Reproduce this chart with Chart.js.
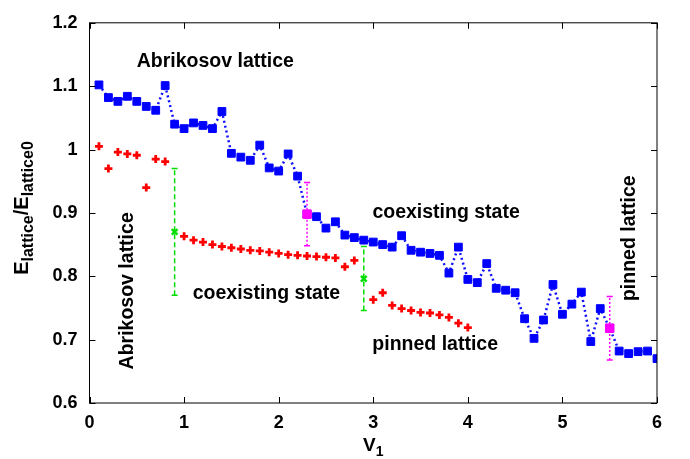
<!DOCTYPE html>
<html>
<head>
<meta charset="utf-8">
<script src="https://cdn.jsdelivr.net/npm/chart.js@4/dist/chart.umd.min.js"></script>
<style>
  body { margin: 0; background: #fff; }
</style>
</head>
<body>
<canvas id="chart" width="690" height="459"></canvas>
<script>
// V1 values (0.1 steps)
const vBlue = [0.1,0.2,0.3,0.4,0.5,0.6,0.7,0.8,0.9,1.0,1.1,1.2,1.3,1.4,1.5,1.6,1.7,1.8,1.9,2.0,
  2.1,2.2,2.3,2.4,2.5,2.6,2.7,2.8,2.9,3.0,3.1,3.2,3.3,3.4,3.5,3.6,3.7,3.8,3.9,4.0,
  4.1,4.2,4.3,4.4,4.5,4.6,4.7,4.8,4.9,5.0,5.1,5.2,5.3,5.4,5.5,5.6,5.7,5.8,5.9,6.0];
const eBlue = [1.102,1.082,1.076,1.084,1.076,1.068,1.062,1.101,1.040,1.033,1.042,1.038,1.033,1.060,0.994,0.988,0.983,1.007,0.971,0.966,
  0.993,0.958,0.898,0.894,0.876,0.886,0.865,0.861,0.857,0.854,0.850,0.846,0.864,0.841,0.838,0.836,0.833,0.805,0.846,0.795,
  0.790,0.820,0.781,0.778,0.774,0.733,0.702,0.731,0.787,0.740,0.756,0.775,0.697,0.749,0.718,0.682,0.678,0.681,0.682,0.670];

const vRed = [0.1,0.2,0.3,0.4,0.5,0.6,0.7,0.8,1.0,1.1,1.2,1.3,1.4,1.5,1.6,1.7,1.8,1.9,2.0,
  2.1,2.2,2.3,2.4,2.5,2.6,2.7,2.8,3.0,3.1,3.2,3.3,3.4,3.5,3.6,3.7,3.8,3.9,4.0];
const eRed = [1.005,0.970,0.996,0.993,0.991,0.940,0.985,0.981,0.863,0.857,0.854,0.850,0.847,0.845,0.843,0.841,0.840,0.838,0.836,
  0.834,0.833,0.832,0.831,0.830,0.829,0.815,0.825,0.763,0.774,0.754,0.749,0.746,0.743,0.742,0.739,0.735,0.726,0.719];

// transition points with error bars
const vGreen = [0.9, 2.9];
const eGreen = [0.870, 0.796];
const loGreen = [0.770, 0.746];
const hiGreen = [0.970, 0.847];

const vMagenta = [2.3, 5.5];
const eMagenta = [0.898, 0.718];
const loMagenta = [0.848, 0.668];
const hiMagenta = [0.948, 0.768];

const xTicks = [0,1,2,3,4,5,6];
const yTicks = [0.6,0.7,0.8,0.9,1.0,1.1,1.2];

// annotations: text, x, y, rotated
const labels = [
  { text: 'Abrikosov lattice', x: 1.33, y: 1.139, rot: false },
  { text: 'Abrikosov lattice', x: 0.40, y: 0.777, rot: true },
  { text: 'coexisting state', x: 1.87, y: 0.773, rot: false },
  { text: 'coexisting state', x: 3.77, y: 0.900, rot: false },
  { text: 'pinned lattice', x: 3.655, y: 0.692, rot: false },
  { text: 'pinned lattice', x: 5.71, y: 0.86, rot: true }
];

const FONT = '"Liberation Sans", Arial, sans-serif';

function pts(xs, ys) {
  return xs.map((x, i) => ({ x: x, y: ys[i] }));
}

function errorBar(x, lo, hi, color, dash, order) {
  return {
    type: 'line',
    data: [{ x: x, y: lo }, { x: x, y: hi }],
    borderColor: color,
    borderWidth: 1.5,
    borderDash: dash,
    pointStyle: 'line',
    pointRadius: 3,
    pointBorderColor: color,
    pointBorderWidth: 1.5,
    fill: false,
    order: order
  };
}

const datasets = [
  {
    type: 'line',
    data: pts(vGreen, eGreen),
    showLine: false,
    pointStyle: 'crossRot',
    pointRadius: 4,
    pointBorderColor: '#00dd00',
    pointBorderWidth: 2.5,
    order: 0
  },
  {
    type: 'line',
    data: pts(vMagenta, eMagenta),
    showLine: false,
    pointStyle: 'rect',
    pointRadius: 6,
    pointBackgroundColor: '#ff00ff',
    pointBorderColor: '#ff00ff',
    pointBorderWidth: 1,
    order: 0
  },
  {
    type: 'line',
    data: pts(vBlue, eBlue),
    borderColor: '#1010ff',
    borderWidth: 2.5,
    borderDash: [2, 3],
    pointStyle: 'rect',
    pointRadius: 5.5,
    pointBackgroundColor: '#0000ff',
    pointBorderColor: '#0000ff',
    pointBorderWidth: 1,
    fill: false,
    order: 3
  },
  {
    type: 'line',
    data: pts(vRed, eRed),
    showLine: false,
    pointStyle: 'cross',
    pointRadius: 4,
    pointBorderColor: '#ff0000',
    pointBorderWidth: 2.8,
    order: 3
  }
];
vGreen.forEach((x, i) => datasets.push(errorBar(x, loGreen[i], hiGreen[i], '#00dd00', [5, 3], 1)));
vMagenta.forEach((x, i) => datasets.push(errorBar(x, loMagenta[i], hiMagenta[i], '#ff00ff', [2, 2], 1)));

// frame, inward ticks, axis titles and annotations
const decorations = {
  id: 'decorations',
  afterDraw(chart) {
    const ctx = chart.ctx;
    const a = chart.chartArea;
    const xs = chart.scales.x, ys = chart.scales.y;
    ctx.save();
    ctx.strokeStyle = '#000';
    ctx.lineWidth = 1;
    ctx.strokeRect(a.left, a.top, a.right - a.left, a.bottom - a.top);
    ctx.beginPath();
    xTicks.forEach(v => {
      const px = Math.round(xs.getPixelForValue(v)) + 0.5;
      ctx.moveTo(px, a.bottom); ctx.lineTo(px, a.bottom - 6);
      ctx.moveTo(px, a.top); ctx.lineTo(px, a.top + 6);
    });
    yTicks.forEach(v => {
      const py = Math.round(ys.getPixelForValue(v)) + 0.5;
      ctx.moveTo(a.left, py); ctx.lineTo(a.left + 6, py);
      ctx.moveTo(a.right, py); ctx.lineTo(a.right - 6, py);
    });
    ctx.stroke();

    ctx.fillStyle = '#000';
    ctx.textBaseline = 'middle';
    // annotations
    ctx.font = 'bold 19.5px ' + FONT;
    ctx.textAlign = 'center';
    labels.forEach(l => {
      const px = xs.getPixelForValue(l.x), py = ys.getPixelForValue(l.y);
      ctx.save();
      ctx.translate(px, py);
      if (l.rot) ctx.rotate(-Math.PI / 2);
      ctx.fillText(l.text, 0, 0);
      ctx.restore();
    });

    // x title V1
    ctx.textAlign = 'left';
    ctx.textBaseline = 'alphabetic';
    const xc = (a.left + a.right) / 2;
    ctx.font = 'bold 19px ' + FONT;
    const wV = ctx.measureText('V').width;
    ctx.font = 'bold 14px ' + FONT;
    const w1 = ctx.measureText('1').width;
    let x0 = xc - (wV + w1) / 2;
    ctx.font = 'bold 19px ' + FONT;
    ctx.fillText('V', x0, 451);
    ctx.font = 'bold 14px ' + FONT;
    ctx.fillText('1', x0 + wV, 456);

    // y title E_lattice/E_lattice0
    const parts = [
      ['E', 20, 0], ['lattice', 16, 5], ['/E', 20, 0], ['lattice0', 16, 5]
    ];
    let total = 0;
    parts.forEach(p => { ctx.font = 'bold ' + p[1] + 'px ' + FONT; total += ctx.measureText(p[0]).width; });
    ctx.translate(28, 208);
    ctx.rotate(-Math.PI / 2);
    let cx = -total / 2;
    parts.forEach(p => {
      ctx.font = 'bold ' + p[1] + 'px ' + FONT;
      ctx.fillText(p[0], cx, p[2]);
      cx += ctx.measureText(p[0]).width;
    });
    ctx.restore();
  }
};

new Chart(document.getElementById('chart'), {
  data: { datasets: datasets },
  options: {
    responsive: false,
    animation: false,
    layout: { padding: { top: 19, right: 33, left: 0, bottom: 0 } },
    plugins: { legend: { display: false }, tooltip: { enabled: false } },
    scales: {
      x: {
        type: 'linear',
        min: 0, max: 6,
        afterBuildTicks: s => { s.ticks = xTicks.map(v => ({ value: v })); },
        afterFit: s => { s.height = 56; },
        grid: { display: false, drawTicks: false },
        border: { display: false },
        ticks: {
          padding: 9,
          color: '#000',
          font: { family: FONT, size: 18, weight: 'bold' },
          callback: v => String(v)
        }
      },
      y: {
        type: 'linear',
        min: 0.6, max: 1.2,
        afterBuildTicks: s => { s.ticks = yTicks.map(v => ({ value: v })); },
        afterFit: s => { s.width = 89.5; },
        grid: { display: false, drawTicks: false },
        border: { display: false },
        ticks: {
          padding: 12,
          color: '#000',
          font: { family: FONT, size: 18, weight: 'bold' },
          callback: v => String(Number(v.toFixed(1)))
        }
      }
    }
  },
  plugins: [decorations]
});
</script>
</body>
</html>
